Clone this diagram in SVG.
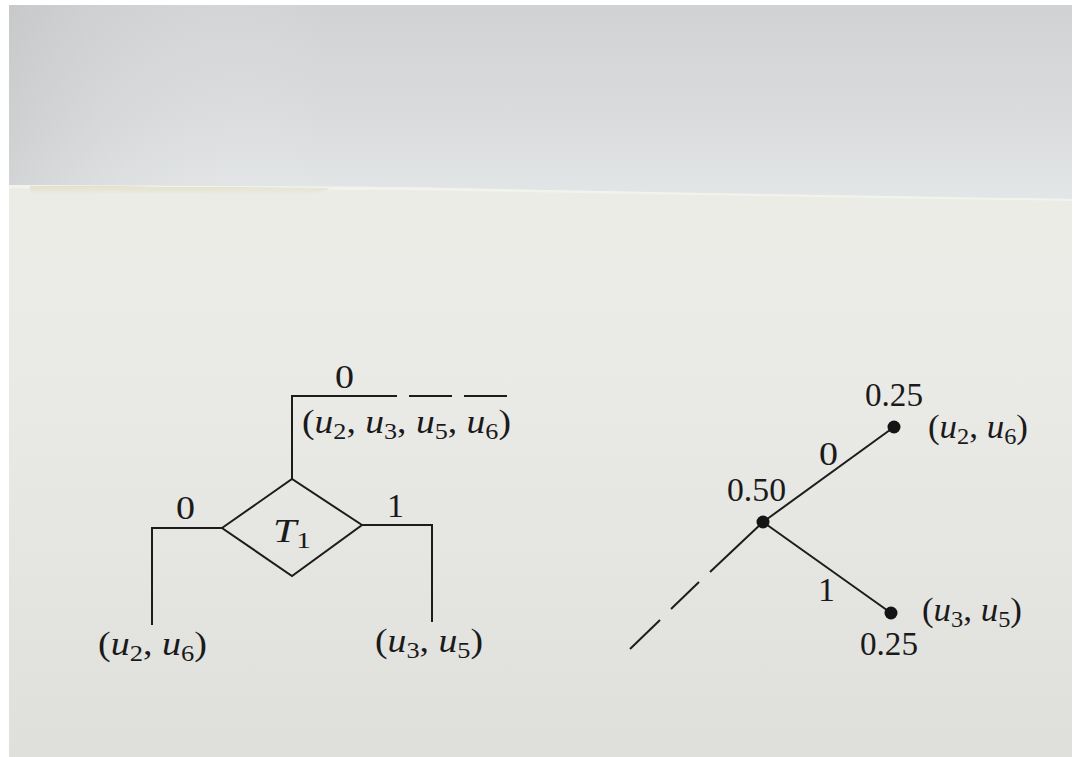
<svg xmlns="http://www.w3.org/2000/svg" width="1078" height="757" viewBox="0 0 1078 757">
<defs>
<linearGradient id="topSheet" x1="0" y1="0" x2="0" y2="1">
<stop offset="0" stop-color="#d0d2d4"/>
<stop offset="0.6" stop-color="#dadcde"/>
<stop offset="1" stop-color="#e4e7e8"/>
</linearGradient>
<linearGradient id="topSide" x1="0" y1="0" x2="1" y2="0">
<stop offset="0" stop-color="#b5b7b9" stop-opacity="0.35"/>
<stop offset="0.3" stop-color="#ffffff" stop-opacity="0"/>
<stop offset="1" stop-color="#ffffff" stop-opacity="0"/>
</linearGradient>
<linearGradient id="lowSheet" x1="0" y1="0" x2="0" y2="1">
<stop offset="0" stop-color="#ecece7"/>
<stop offset="0.4" stop-color="#e9e9e6"/>
<stop offset="1" stop-color="#dfdfdc"/>
</linearGradient>
<linearGradient id="stain" x1="0" y1="0" x2="0" y2="1">
<stop offset="0" stop-color="#d4cda3" stop-opacity="0.55"/>
<stop offset="1" stop-color="#ecebdd" stop-opacity="0"/>
</linearGradient>
<style>
.ln{stroke:#1c1c1c;stroke-width:2;fill:none;stroke-linecap:butt}
.t{font-family:"Liberation Serif","DejaVu Serif",serif;font-size:33px;fill:#1a1a1a}
.i{font-style:italic}
.s{font-size:23px}
.dot{fill:#141414}
</style>
</defs>
<g id="background">
<rect x="0" y="0" width="1078" height="757" fill="#ffffff"/>
<rect x="9" y="5" width="1063" height="200" fill="url(#topSheet)"/>
<rect x="9" y="5" width="1063" height="200" fill="url(#topSide)"/>
<polygon points="9,185 400,187 700,193 1072,199 1072,757 9,757" fill="url(#lowSheet)"/>
<polygon points="9,185 400,187 700,193 1072,199 1072,201 700,195 400,190 9,188" fill="#f3f3ee"/>
<polygon points="30,186 120,186 160,187 240,187 330,188 310,197 250,196 200,194 120,193 60,196 30,194" fill="url(#stain)"/>
</g>
<g id="connectors">
<line class="ln" x1="292" y1="479" x2="292" y2="396"/>
<line class="ln" x1="291" y1="396" x2="397" y2="396"/>
<line class="ln" x1="409" y1="396" x2="452" y2="396"/>
<line class="ln" x1="464" y1="396" x2="507" y2="396"/>
<polyline class="ln" points="222,528 152,528 152,625"/>
<polyline class="ln" points="362,525 432,525 432,622"/>
<line class="ln" x1="894" y1="427" x2="763" y2="522"/>
<line class="ln" x1="763" y1="522" x2="891" y2="613"/>
<line class="ln" x1="763" y1="522" x2="710" y2="572"/>
<line class="ln" x1="699" y1="582" x2="671" y2="609"/>
<line class="ln" x1="660" y1="620" x2="630" y2="649"/>
</g>
<g id="T1">
<polygon class="ln" points="222,528 292,479 362,525 292,576"/>
<text class="t" x="273" y="542" textLength="38" lengthAdjust="spacingAndGlyphs"><tspan class="i">T</tspan><tspan class="s" dy="6">1</tspan></text>
</g>
<g id="edge-labels-left">
<text class="t" x="335" y="388" textLength="19" lengthAdjust="spacingAndGlyphs">0</text>
<text class="t" x="176" y="519" textLength="19" lengthAdjust="spacingAndGlyphs">0</text>
<text class="t" x="387" y="517" textLength="17" lengthAdjust="spacingAndGlyphs">1</text>
</g>
<g id="leaf-all">
<text class="t" x="302" y="433" textLength="209" lengthAdjust="spacingAndGlyphs">(<tspan class="i">u</tspan><tspan class="s" dy="6">2</tspan><tspan dy="-6">, </tspan><tspan class="i">u</tspan><tspan class="s" dy="6">3</tspan><tspan dy="-6">, </tspan><tspan class="i">u</tspan><tspan class="s" dy="6">5</tspan><tspan dy="-6">, </tspan><tspan class="i">u</tspan><tspan class="s" dy="6">6</tspan><tspan dy="-6">)</tspan></text>
</g>
<g id="leaf-u2u6-left">
<text class="t" x="98" y="655" textLength="109" lengthAdjust="spacingAndGlyphs">(<tspan class="i">u</tspan><tspan class="s" dy="6">2</tspan><tspan dy="-6">, </tspan><tspan class="i">u</tspan><tspan class="s" dy="6">6</tspan><tspan dy="-6">)</tspan></text>
</g>
<g id="leaf-u3u5-left">
<text class="t" x="375" y="652" textLength="108" lengthAdjust="spacingAndGlyphs">(<tspan class="i">u</tspan><tspan class="s" dy="6">3</tspan><tspan dy="-6">, </tspan><tspan class="i">u</tspan><tspan class="s" dy="6">5</tspan><tspan dy="-6">)</tspan></text>
</g>
<g id="node-050">
<circle class="dot" cx="763" cy="522" r="6.5"/>
<text class="t" x="727" y="501" textLength="59" lengthAdjust="spacingAndGlyphs">0.50</text>
</g>
<g id="node-upper">
<circle class="dot" cx="894" cy="427" r="6.5"/>
<text class="t" x="865" y="406" textLength="58" lengthAdjust="spacingAndGlyphs">0.25</text>
<text class="t" x="928" y="438" textLength="100" lengthAdjust="spacingAndGlyphs">(<tspan class="i">u</tspan><tspan class="s" dy="6">2</tspan><tspan dy="-6">, </tspan><tspan class="i">u</tspan><tspan class="s" dy="6">6</tspan><tspan dy="-6">)</tspan></text>
</g>
<g id="node-lower">
<circle class="dot" cx="891" cy="613" r="6.5"/>
<text class="t" x="860" y="655" textLength="58" lengthAdjust="spacingAndGlyphs">0.25</text>
<text class="t" x="922" y="621" textLength="100" lengthAdjust="spacingAndGlyphs">(<tspan class="i">u</tspan><tspan class="s" dy="6">3</tspan><tspan dy="-6">, </tspan><tspan class="i">u</tspan><tspan class="s" dy="6">5</tspan><tspan dy="-6">)</tspan></text>
</g>
<g id="edge-labels-right">
<text class="t" x="819" y="465" textLength="19" lengthAdjust="spacingAndGlyphs">0</text>
<text class="t" x="818" y="601" textLength="17" lengthAdjust="spacingAndGlyphs">1</text>
</g>
</svg>
